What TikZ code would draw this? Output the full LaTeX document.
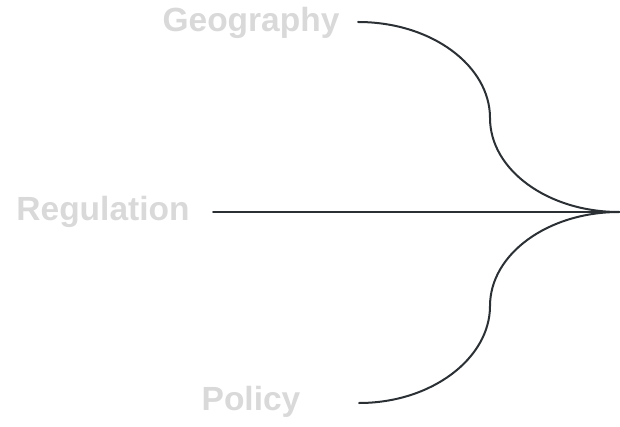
\documentclass[tikz,border=0pt]{standalone}
\usepackage{fontspec}
\setmainfont{Liberation Sans}
\usepackage{tikz}
\definecolor{labelgray}{HTML}{D9D9D9}
\definecolor{linegray}{HTML}{2B3035}

\begin{document}
\begin{tikzpicture}[x=1pt, y=-1pt, line width=2pt,
    lbl/.style = {text=labelgray, font=\fontsize{33.5}{40}\selectfont\bfseries, inner sep=0pt},
    wire/.style = {draw=linegray, line cap=round}]
    \useasboundingbox (0,0) rectangle (620,427);

    \coordinate (hub) at (619,212);
    \coordinate (geostart) at (358,22);
    \coordinate (regstart) at (213,212);
    \coordinate (polstart) at (359,403);

    \node[lbl] (geo) at (251,23) {Geography};
    \node[lbl] (reg) at (103,212) {Regulation};
    \node[lbl] (pol) at (251,402) {Policy};

    \draw[wire] (geostart) .. controls (432,22) and (490,66) .. (490,118)
        .. controls (490,170) and (548,212) .. (hub);
    \draw[wire] (regstart) -- (hub);
    \draw[wire] (polstart) .. controls (432,403) and (490,358) .. (490,306)
        .. controls (490,254) and (548,212) .. (hub);
  \end{tikzpicture}
\end{document}
